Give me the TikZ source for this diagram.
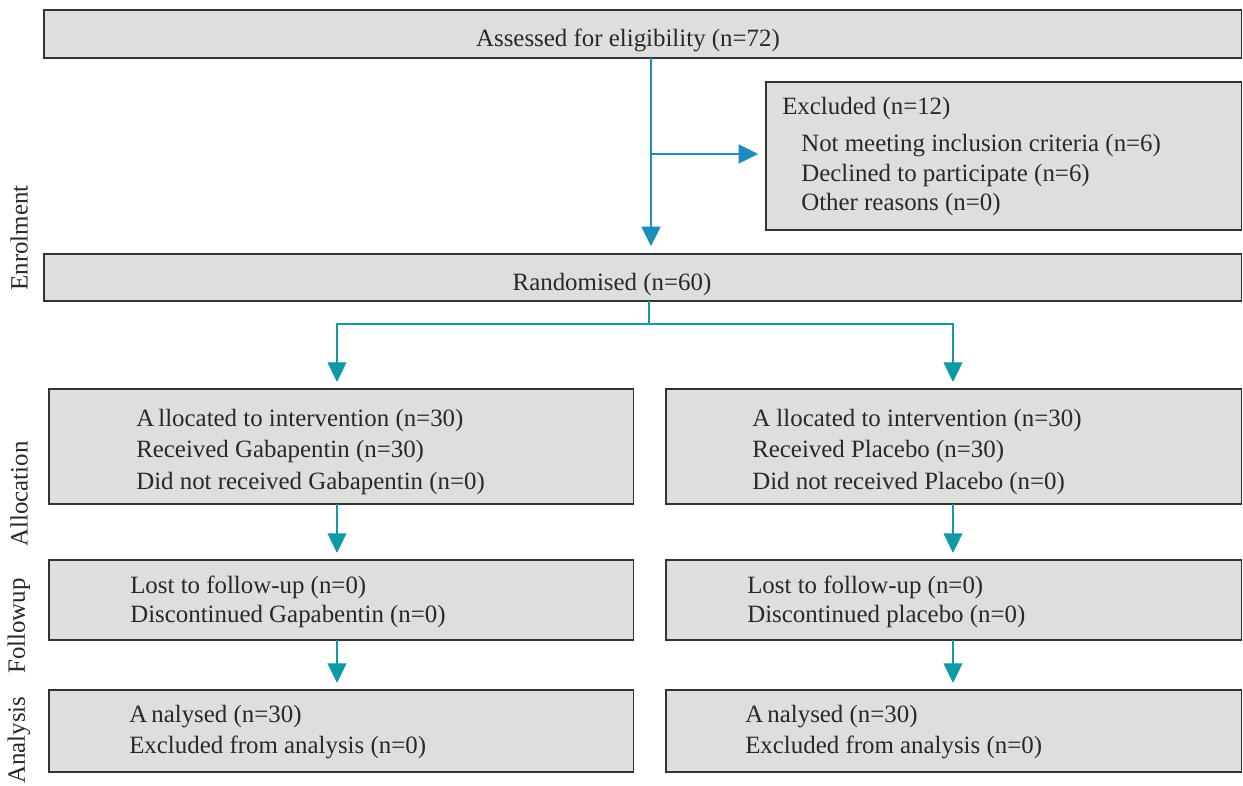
\documentclass[tikz,border=0pt]{standalone}
\usepackage{fontspec}
\setmainfont{Liberation Serif}
\usepackage{tikz}
\usetikzlibrary{arrows.meta,positioning}

\definecolor{boxgray}{RGB}{222,222,221}
\definecolor{flowblue}{RGB}{26,141,190}
\definecolor{flowteal}{RGB}{16,154,166}
\definecolor{inkgray}{RGB}{40,40,40}

\tikzset{
	box/.style={draw=black!80,fill=boxgray,line width=0.9pt,inner sep=0pt,outer sep=0pt,anchor=north west},
	txt/.style={inner sep=0pt,align=left,anchor=north west,text=inkgray,font=\fontsize{17.7}{22}\selectfont},
	phase/.style={inner sep=0pt,rotate=90,text=inkgray,font=\fontsize{17.7}{22}\selectfont},
	toparrow/.style={->,draw=flowblue,line width=1.3pt,shorten >=5.5pt},
	lowarrow/.style={->,draw=flowteal,line width=1pt,shorten >=5pt},
}

\begin{document}
\begin{tikzpicture}[x=0.025cm,y=-0.025cm,>={Triangle[length=14pt,width=13.5pt]}]
	\useasboundingbox (0,0) rectangle (1243,786);
	% boxes
	\node[box,minimum width=29.925cm,minimum height=1.2cm] (assess) at (44,10) {};
	\node[box,minimum width=11.875cm,minimum height=3.7cm] (excl) at (766,82) {};
	\node[box,minimum width=29.925cm,minimum height=1.175cm] (rand) at (44,254) {};
	\node[box,minimum width=14.6cm,minimum height=2.875cm] (allocL) at (49,389) {};
	\node[box,minimum width=14.375cm,minimum height=2.875cm] (allocR) at (666,389) {};
	\node[box,minimum width=14.6cm,minimum height=2cm] (followL) at (49,560) {};
	\node[box,minimum width=14.375cm,minimum height=2cm] (followR) at (666,560) {};
	\node[box,minimum width=14.6cm,minimum height=2.05cm] (analysisL) at (49,690) {};
	\node[box,minimum width=14.375cm,minimum height=2.05cm] (analysisR) at (666,690) {};
	% texts
	\node[txt,anchor=base] (assesstxt) at (628,47) {Assessed for eligibility (n=72)};
	\node[txt] (exclhead) at (782,97) {Excluded (n=12)};
	\node[txt,font=\fontsize{17.7}{21}\selectfont] (excllist) at (801,134)
		{Not meeting inclusion criteria (n=6)\\Declined to participate (n=6)\\Other reasons (n=0)};
	\node[txt,anchor=base] (randtxt) at (612,291) {Randomised (n=60)};
	\node[txt,font=\fontsize{17.7}{22.3}\selectfont] (allocLtxt) at (136,409)
		{A\,llocated to intervention (n=30)\\Received Gabapentin (n=30)\\Did not received Gabapentin (n=0)};
	\node[txt,font=\fontsize{17.7}{22.3}\selectfont] (allocRtxt) at (752,409)
		{A llocated to intervention (n=30)\\Received Placebo (n=30)\\Did not received Placebo (n=0)};
	\node[txt,font=\fontsize{17.7}{20.6}\selectfont] (followLtxt) at (130,576)
		{Lost to follow-up (n=0)\\Discontinued Gapabentin (n=0)};
	\node[txt,font=\fontsize{17.7}{20.6}\selectfont] (followRtxt) at (747,576)
		{Lost to follow-up (n=0)\\Discontinued placebo (n=0)};
	\node[txt] (analysisLtxt) at (129,705)
		{A\,nalysed (n=30)\\Excluded from analysis (n=0)};
	\node[txt] (analysisRtxt) at (745,705)
		{A\,nalysed (n=30)\\Excluded from analysis (n=0)};
	% phases
	\node[phase] (enrol) at (19,238) {Enrolment};
	\node[phase] (alloc) at (19,494) {Allocation};
	\node[phase] (follow) at (19,626) {Followup};
	\node[phase] (analysis) at (19,740) {Analysis};
	% connectors
	\coordinate (split) at (651,154);
	\coordinate (fork) at (649,324);
	\coordinate (lcol) at (337,0);
	\coordinate (rcol) at (953,0);
	\draw[toparrow] (assess.south -| split) -- (rand.north -| split);
	\draw[toparrow] (split) -- (excl.west |- split);
	\draw[draw=flowteal,line width=1pt] (rand.south -| fork) -- (fork);
	\draw[lowarrow] (fork) -| (allocL.north -| lcol);
	\draw[lowarrow] (fork) -| (allocR.north -| rcol);
	\draw[lowarrow] (allocL.south -| lcol) -- (followL.north -| lcol);
	\draw[lowarrow] (allocR.south -| rcol) -- (followR.north -| rcol);
	\draw[lowarrow] (followL.south -| lcol) -- (analysisL.north -| lcol);
	\draw[lowarrow] (followR.south -| rcol) -- (analysisR.north -| rcol);
\end{tikzpicture}
\end{document}
